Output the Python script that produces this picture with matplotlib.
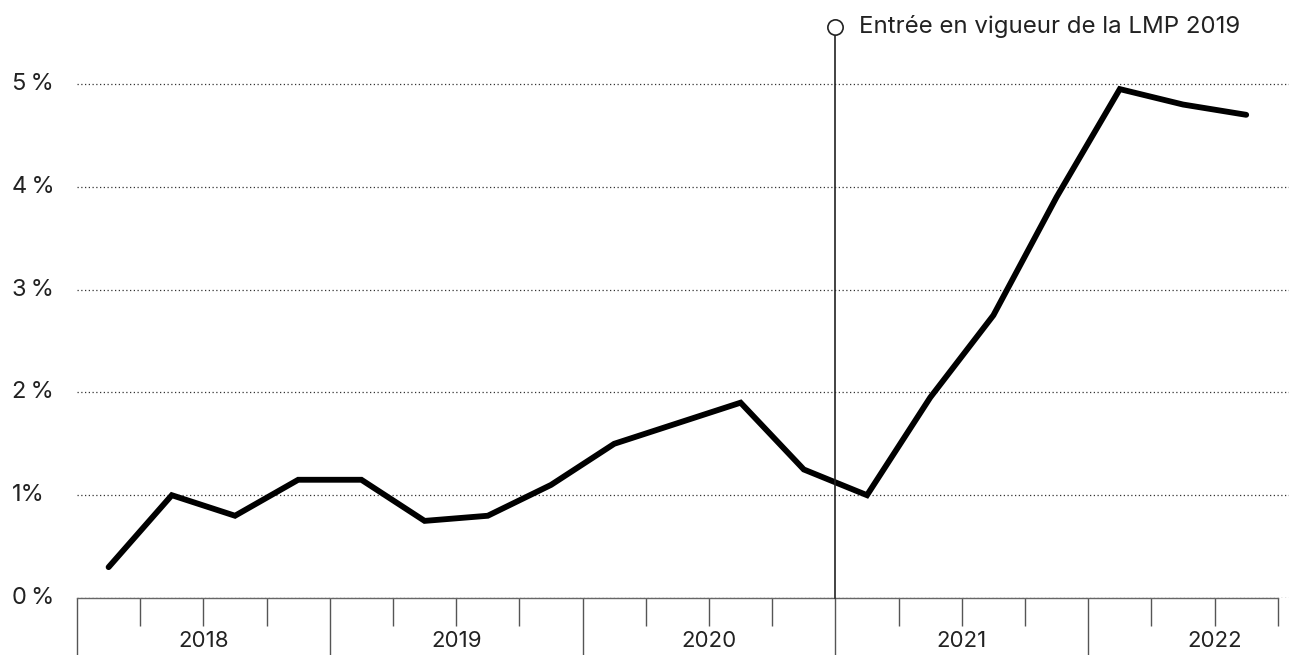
import matplotlib
matplotlib.use("Agg")
import matplotlib.pyplot as plt
import matplotlib.transforms as mtransforms

plt.rcParams['font.family'] = ['Inter', 'DejaVu Sans']

years = ["2018", "2019", "2020", "2021", "2022"]
quarters_per_year = [4, 4, 4, 4, 3]
values = [0.3, 1.0, 0.8, 1.15, 1.15, 0.75, 0.8, 1.1, 1.5, 1.7, 1.9, 1.25,
          1.0, 1.95, 2.75, 3.9, 4.95, 4.8, 4.7]
y_ticks = [0, 1, 2, 3, 4, 5]
y_labels = ["0\u2009%", "1%", "2\u2009%", "3\u2009%", "4\u2009%", "5\u2009%"]
event_label = "Entrée en vigueur de la LMP 2019"
event_quarter = 12  # start of 2021

W, H = 1289, 655
fig = plt.figure(figsize=(W / 100, H / 100), dpi=100)
ax = fig.add_axes([77 / W, 57 / H, (W - 77) / W, (598 - 12) / H])

n = len(values)
xs = [i + 0.5 for i in range(n)]
ax.plot(xs, values, color="black", lw=4.2, solid_capstyle="round",
        solid_joinstyle="miter", zorder=3)

ax.set_ylim(0, 5.7)
ax.set_xlim(0, (W - 77) / 63.2)

for s in ["top", "right", "left"]:
    ax.spines[s].set_visible(False)
ax.spines["bottom"].set_bounds(0, n)
ax.spines["bottom"].set_color("#666666")
ax.spines["bottom"].set_linewidth(1.0)

ax.set_yticks(y_ticks)
ax.set_yticklabels([])
ax.tick_params(axis="y", length=0)
ytrans = mtransforms.blended_transform_factory(fig.transFigure, ax.transData)
for y, lab in zip(y_ticks, y_labels):
    ax.text(12 / W, y, lab, transform=ytrans, ha="left", va="center",
            fontsize=17, color="#222222")
    ax.axhline(y, color="#333333", lw=0.9, ls=(0, (1, 2)), zorder=1)

# ticks
boundaries = [0]
for q in quarters_per_year:
    boundaries.append(boundaries[-1] + q)
major = boundaries[:-1]
minor = [i for i in range(n + 1) if i not in major]
ax.set_xticks(major)
ax.set_xticks(minor, minor=True)
ax.set_xticklabels([])
ax.tick_params(axis="x", which="major", length=42, width=1.0, color="#555555")
ax.tick_params(axis="x", which="minor", length=20, width=1.0, color="#555555")

trans = mtransforms.blended_transform_factory(ax.transData, fig.transFigure)
for i, yr in enumerate(years):
    ax.text(boundaries[i] + 2, (H - 641) / H, yr, transform=trans,
            ha="center", va="center", fontsize=16, color="#222222")

# event line
top_y = (598 - 27) / 102.8
ax.plot([event_quarter, event_quarter], [0, top_y], color="#222222", lw=1.2,
        zorder=4, clip_on=False)
ax.plot([event_quarter], [top_y], marker="o", ms=11, mfc="white", mec="#222222",
        mew=1.2, zorder=5, clip_on=False)
ax.text(event_quarter + 0.38, top_y, event_label, ha="left", va="center",
        fontsize=17.3, color="#222222")

fig.savefig("out.png", dpi=100)
